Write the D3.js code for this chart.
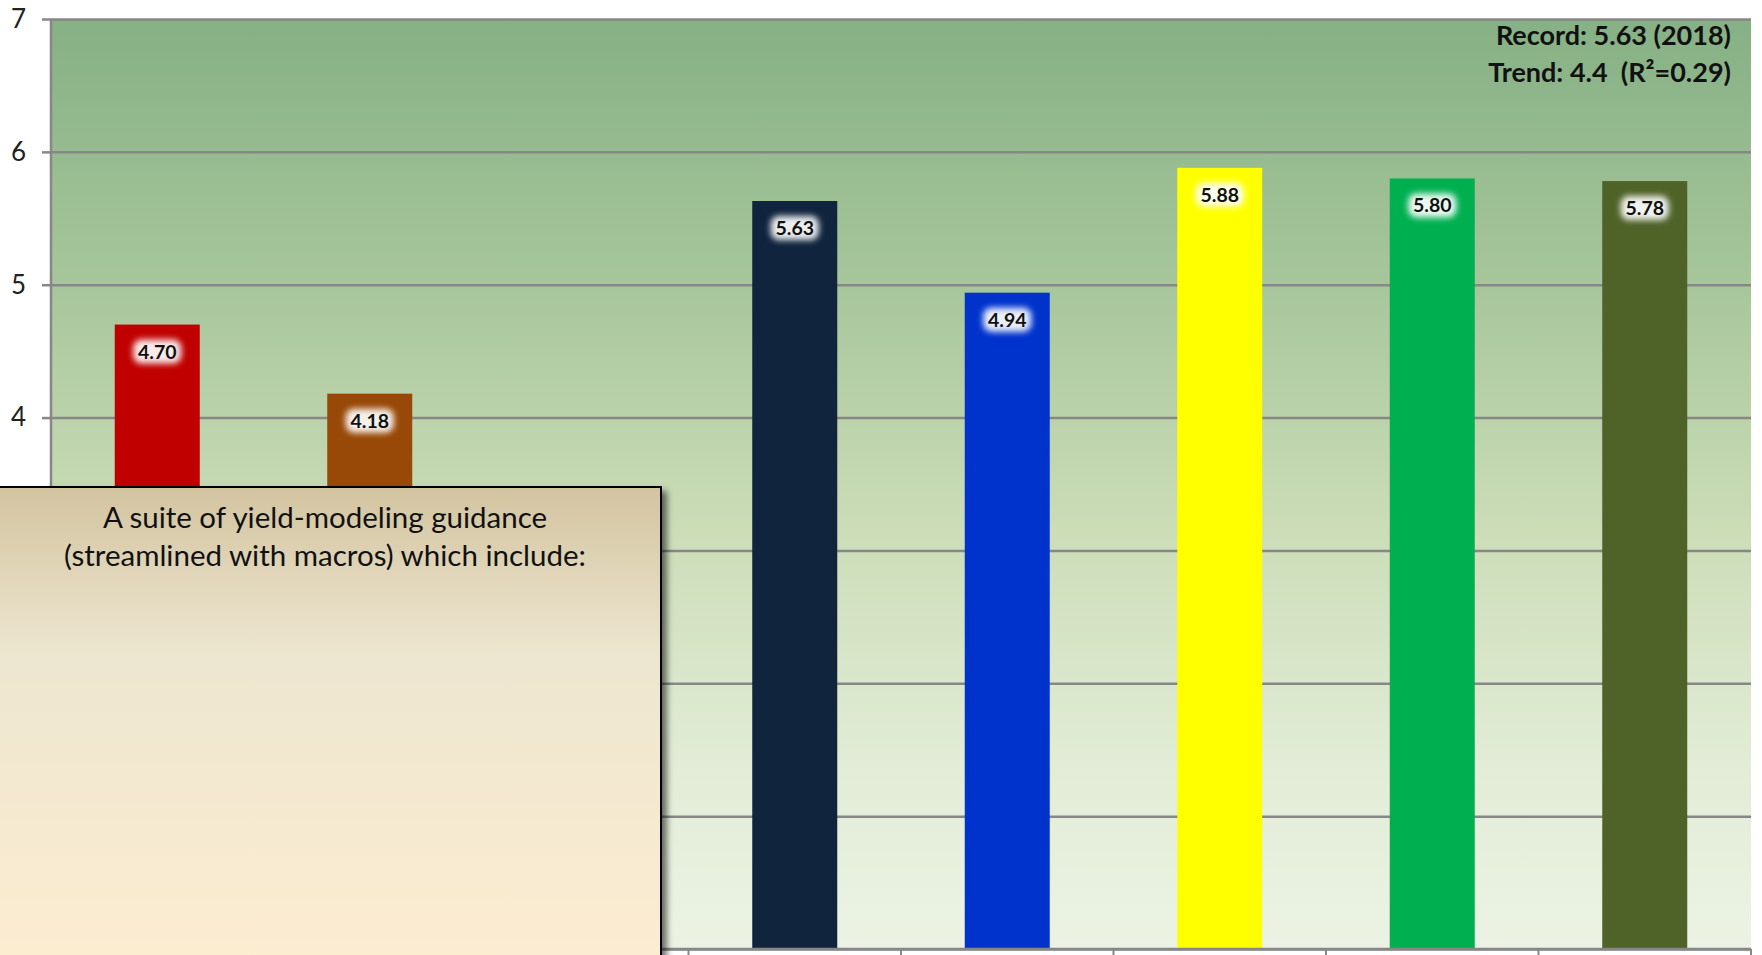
<!DOCTYPE html>
<html>
<head>
<meta charset="utf-8">
<script src="https://cdn.jsdelivr.net/npm/d3@7"></script>
<style>
  html, body { margin: 0; padding: 0; background: #ffffff; }
  svg { display: block; }
</style>
</head>
<body>
<svg id="chart" width="1762" height="955"></svg>
<script>
// Yield by slot; the third slot has no bar shown.
const categories = ["s1", "s2", "s3", "s4", "s5", "s6", "s7", "s8"];
const values = [4.70, 4.18, null, 5.63, 4.94, 5.88, 5.80, 5.78];
const barColors = ["#c00000", "#984807", "#c00000", "#10243e", "#0033cc", "#ffff00", "#00b050", "#4f6228"];
const gridTicks = [0, 1, 2, 3, 4, 5, 6, 7];
const labelTicks = [1, 2, 3, 4, 5, 6, 7];
const noteLines = ["Record: 5.63 (2018)", "Trend: 4.4\u00a0\u00a0(R\u00b2=0.29)"];
const boxLines = ["A suite of yield-modeling guidance", "(streamlined with macros) which include:"];

const W = 1762, H = 955;
const margin = { left: 51, top: 19, right: 11, bottom: 6 };
const plotW = W - margin.left - margin.right;
const plotBottom = 949;
const font = "Lato, 'Liberation Sans', sans-serif";

const svg = d3.select("#chart");
const defs = svg.append("defs");

const bgGrad = defs.append("linearGradient").attr("id", "plotBg")
  .attr("x1", 0).attr("y1", 0).attr("x2", 0).attr("y2", 1);
[[0, "#86b085"], [0.3, "#a9c79c"], [0.55, "#ccddb8"], [0.8, "#e2ecd6"], [1, "#ecf3e4"]]
  .forEach(([o, c]) => bgGrad.append("stop").attr("offset", o).attr("stop-color", c));

const boxGrad = defs.append("linearGradient").attr("id", "boxBg")
  .attr("x1", 0).attr("y1", 0).attr("x2", 0).attr("y2", 1);
[[0, "#d3c4a0"], [0.35, "#ede6d0"], [1, "#fdedd1"]]
  .forEach(([o, c]) => boxGrad.append("stop").attr("offset", o).attr("stop-color", c));

const glow = defs.append("filter").attr("id", "glow")
  .attr("x", "-50%").attr("y", "-50%").attr("width", "200%").attr("height", "200%");
glow.append("feGaussianBlur").attr("stdDeviation", 3);

const shadow = defs.append("filter").attr("id", "shadow")
  .attr("x", "-10%").attr("y", "-10%").attr("width", "130%").attr("height", "130%");
shadow.append("feDropShadow").attr("dx", 5).attr("dy", 5).attr("stdDeviation", 3)
  .attr("flood-color", "#000").attr("flood-opacity", 0.55);

const x = d3.scaleBand().domain(categories)
  .range([margin.left, margin.left + plotW])
  .paddingInner(0.6).paddingOuter(0.3);
const y = d3.scaleLinear().domain([0, 7]).range([plotBottom, margin.top]);

// plot area background
svg.append("rect")
  .attr("x", margin.left).attr("y", y(7))
  .attr("width", plotW).attr("height", y(0) - y(7))
  .attr("fill", "url(#plotBg)");

// horizontal gridlines
const grid = svg.append("g")
  .attr("transform", `translate(${margin.left},0)`)
  .call(d3.axisLeft(y).tickValues(gridTicks).tickSize(-plotW).tickFormat(""));
grid.select(".domain").remove();
grid.selectAll(".tick line").attr("stroke", "#878787").attr("stroke-width", 2.5);

// bars
const data = categories.map((c, i) => ({ c, v: values[i], color: barColors[i] }))
  .filter(d => d.v != null);

svg.append("g").selectAll("rect").data(data).join("rect")
  .attr("x", d => x(d.c)).attr("y", d => y(d.v))
  .attr("width", x.bandwidth()).attr("height", d => y(0) - y(d.v))
  .attr("fill", d => d.color);

// value labels with a soft white halo
const lab = svg.append("g").selectAll("g").data(data).join("g")
  .attr("transform", d => `translate(${x(d.c) + x.bandwidth() / 2},${y(d.v) + 27})`);
lab.append("rect")
  .attr("x", -24).attr("y", -12).attr("width", 48).attr("height", 24)
  .attr("rx", 8).attr("fill", "#ffffff").attr("opacity", 0.92)
  .attr("filter", "url(#glow)");
lab.append("text")
  .attr("text-anchor", "middle").attr("dy", "0.36em")
  .attr("font-family", font)
  .attr("font-weight", "bold").attr("font-size", 19.5).attr("fill", "#111")
  .text(d => d.v.toFixed(2));

// y axis
const yAxis = svg.append("g")
  .attr("transform", `translate(${margin.left},0)`)
  .call(d3.axisLeft(y).tickValues(labelTicks).tickSize(9).tickPadding(16).tickFormat(d3.format("d")));
yAxis.select(".domain").attr("stroke", "#878787").attr("stroke-width", 2.5)
  .attr("d", `M0,${y(7)}V${y(0)}`);
yAxis.selectAll(".tick line").attr("stroke", "#878787").attr("stroke-width", 2.5);
yAxis.selectAll(".tick text")
  .attr("font-family", font)
  .attr("font-size", 26).attr("fill", "#222");

// x axis baseline with slot dividers
const bounds = categories.map(c => x(c) - x.step() * x.paddingInner() / 2)
  .concat([margin.left + plotW]);
bounds[0] = margin.left;
svg.append("line")
  .attr("x1", margin.left).attr("x2", margin.left + plotW)
  .attr("y1", plotBottom).attr("y2", plotBottom)
  .attr("stroke", "#878787").attr("stroke-width", 2.5);
svg.append("g").selectAll("line").data(bounds).join("line")
  .attr("x1", d => d).attr("x2", d => d)
  .attr("y1", plotBottom).attr("y2", H)
  .attr("stroke", "#878787").attr("stroke-width", 2);

// record / trend note
svg.append("g").selectAll("text").data(noteLines).join("text")
  .attr("x", 1731).attr("y", (d, i) => 36 + i * 37)
  .attr("dy", "0.35em").attr("text-anchor", "end")
  .attr("font-family", font)
  .attr("font-weight", "bold").attr("font-size", 27).attr("fill", "#111")
  .text(d => d);

// text box
svg.append("rect")
  .attr("x", -3).attr("y", 487).attr("width", 664).attr("height", 480)
  .attr("fill", "url(#boxBg)").attr("stroke", "#000").attr("stroke-width", 2)
  .attr("filter", "url(#shadow)");
svg.append("g").selectAll("text").data(boxLines).join("text")
  .attr("x", 325).attr("y", (d, i) => 518 + i * 38)
  .attr("dy", "0.35em").attr("text-anchor", "middle")
  .attr("font-family", font)
  .attr("font-size", 29.5).attr("fill", "#111")
  .text(d => d);
</script>
</body>
</html>
